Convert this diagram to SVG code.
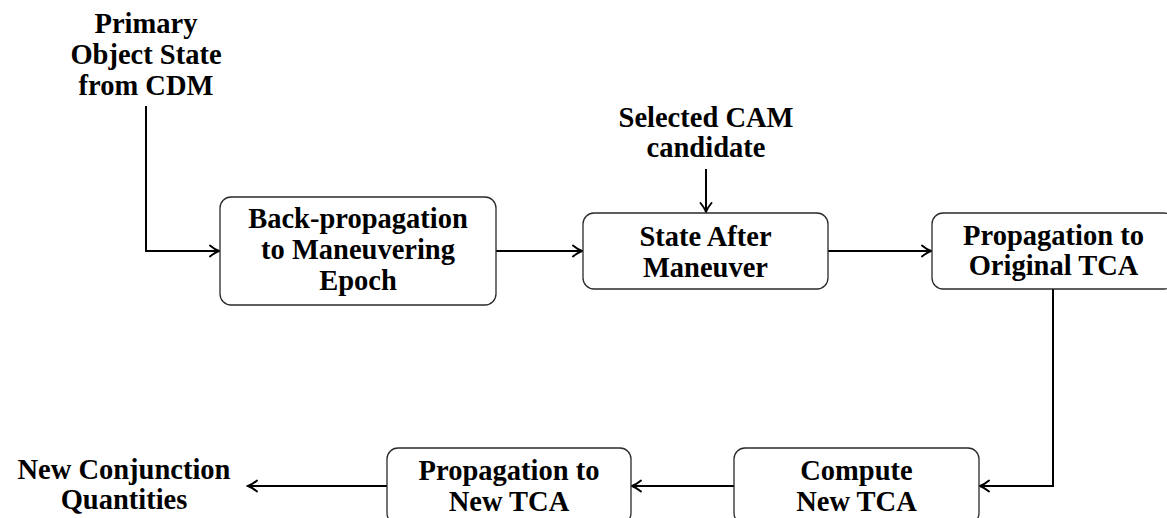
<svg xmlns="http://www.w3.org/2000/svg" width="1167" height="518" viewBox="0 0 1167 518">
  <defs>
    <style>
      .box { fill: #ffffff; stroke: #2a2a2a; stroke-width: 1.3; }
      .lbl { font-family: "Liberation Serif", "Times New Roman", serif; font-weight: bold; font-size: 28.5px; fill: #000000; text-anchor: middle; }
      .edge { fill: none; stroke: #000000; stroke-width: 2; marker-end: url(#tip); }
    </style>
    <!-- curved open arrowhead, tip at the path end -->
    <marker id="tip" markerUnits="userSpaceOnUse" viewBox="-11 -7 13 14" refX="0" refY="0" markerWidth="13" markerHeight="14" orient="auto">
      <path d="M-9,-5.5 C-5.5,-2.5 -1.8,-0.7 0,0 C-1.8,0.7 -5.5,2.5 -9,5.5" fill="none" stroke="#000000" stroke-width="1.9" stroke-linecap="round"/>
    </marker>
  </defs>

  <rect width="1167" height="518" fill="#ffffff"/>

  <!-- connectors -->
  <g id="connectors">
    <path class="edge" d="M146,106 V251 H219"/>
    <path class="edge" d="M706,169 V212"/>
    <path class="edge" d="M496,251 H582"/>
    <path class="edge" d="M828,251 H931"/>
    <path class="edge" d="M1053,289 V486 H980"/>
    <path class="edge" d="M734,486 H632"/>
    <path class="edge" d="M387,486 H248"/>
  </g>

  <!-- inputs -->
  <g id="primary-state">
    <text class="lbl" x="146" y="33">Primary</text>
    <text class="lbl" x="146" y="64">Object State</text>
    <text class="lbl" x="146" y="95">from CDM</text>
  </g>
  <g id="cam-candidate">
    <text class="lbl" x="706" y="127">Selected CAM</text>
    <text class="lbl" x="706" y="157">candidate</text>
  </g>

  <!-- processing steps -->
  <g id="back-propagation">
    <rect class="box" x="220" y="197" width="276" height="108" rx="11"/>
    <text class="lbl" x="358" y="228">Back-propagation</text>
    <text class="lbl" x="358" y="259">to Maneuvering</text>
    <text class="lbl" x="358" y="290">Epoch</text>
  </g>
  <g id="state-after">
    <rect class="box" x="583" y="213" width="245" height="76" rx="11"/>
    <text class="lbl" x="705.5" y="246">State After</text>
    <text class="lbl" x="705.5" y="277">Maneuver</text>
  </g>
  <g id="prop-original">
    <rect class="box" x="932" y="213" width="243" height="76" rx="11"/>
    <text class="lbl" x="1053.5" y="245">Propagation to</text>
    <text class="lbl" x="1053.5" y="275">Original TCA</text>
  </g>
  <g id="compute-tca">
    <rect class="box" x="734" y="448" width="245" height="76" rx="11"/>
    <text class="lbl" x="856.5" y="480">Compute</text>
    <text class="lbl" x="856.5" y="511">New TCA</text>
  </g>
  <g id="prop-new">
    <rect class="box" x="387" y="448" width="244" height="76" rx="11"/>
    <text class="lbl" x="509" y="480">Propagation to</text>
    <text class="lbl" x="509" y="511">New TCA</text>
  </g>

  <!-- output -->
  <g id="new-quantities">
    <text class="lbl" x="124" y="479">New Conjunction</text>
    <text class="lbl" x="124" y="509">Quantities</text>
  </g>
</svg>
